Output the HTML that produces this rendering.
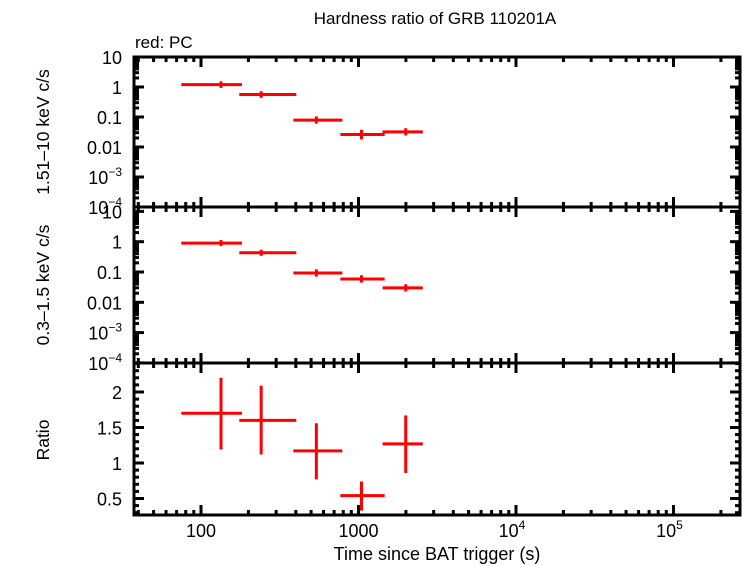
<!DOCTYPE html>
<html><head><meta charset="utf-8"><style>
body{margin:0;background:#fff}
svg{display:block;font-family:"Liberation Sans",sans-serif}
</style></head><body>
<svg id="c" width="742" height="566" viewBox="0 0 742 566">
<text x="435" y="24" font-size="17" text-anchor="middle">Hardness ratio of GRB 110201A</text>
<text x="135" y="48" font-size="17">red: PC</text>
<text x="437" y="560" font-size="18" text-anchor="middle">Time since BAT trigger (s)</text>
<text transform="translate(49,132) rotate(-90)" font-size="17.5" text-anchor="middle">1.51–10 keV c/s</text>
<text transform="translate(49,285) rotate(-90)" font-size="17.5" text-anchor="middle">0.3–1.5 keV c/s</text>
<text transform="translate(49,440) rotate(-90)" font-size="17.5" text-anchor="middle">Ratio</text>
<g id="g"></g>
</svg>
<script>
const tLo=[75,175,386,767,1422];
const tHi=[182,403,790,1466,2560];
const tMid=[134,241,540,1045,1995];
const hardVal=[1.2,0.56,0.079,0.026,0.032];
const hardErrLog=[0.11,0.11,0.12,0.16,0.12];
const softVal=[0.9,0.43,0.093,0.059,0.03];
const softErrLog=[0.1,0.1,0.12,0.12,0.12];
const ratioVal=[1.70,1.60,1.17,0.54,1.27];
const ratioLo=[1.19,1.12,0.77,0.33,0.86];
const ratioHi=[2.20,2.09,1.56,0.74,1.67];
const ratioTicks=[0.5,1,1.5,2];
const xTickLabels=["100","1000"];

const NS="http://www.w3.org/2000/svg";
const g=document.getElementById('g');
const L=134,R=740;
const X=t=>201+(Math.log10(t)-2)*157.5;
function el(tag,attrs,parent){const e=document.createElementNS(NS,tag);for(const k in attrs)e.setAttribute(k,attrs[k]);(parent||g).appendChild(e);return e;}
const panels=[
 {top:57,bot:207,log:true,y:v=>57+(1-Math.log10(v))*30,name:'hard'},
 {top:207,bot:363,log:true,y:v=>241.7+(0-Math.log10(v))*30.3,name:'soft'},
 {top:363,bot:515,log:false,y:v=>463-(v-1)*71,name:'ratio'}
];
panels.forEach(p=>{
 for(let d=1;d<=5;d++){for(let m=1;m<=9;m++){const t=m*Math.pow(10,d);const x=X(t);if(x<L+2||x>R-1)continue;const len=m===1?10:5;
  let e=el('line',{x1:x,x2:x,y1:p.bot,y2:p.bot-len,stroke:'#000','stroke-width':3});
  
  e=el('line',{x1:x,x2:x,y1:p.top,y2:p.top+len,stroke:'#000','stroke-width':3});
  }}
});
function ytick(p,y,len){if(y<p.top-0.5||y>p.bot+0.5)return;
 let e=el('line',{x1:L,x2:L+len,y1:y,y2:y,stroke:'#000','stroke-width':3});
 e=el('line',{x1:R,x2:R-len,y1:y,y2:y,stroke:'#000','stroke-width':3});}
const logLabels={"1":"10","0":"1","-1":"0.1","-2":"0.01"};
[panels[0],panels[1]].forEach((p,pi)=>{
 for(let d=-4;d<=1;d++){for(let m=1;m<=9;m++){const v=m*Math.pow(10,d);ytick(p,p.y(v),m===1?10:5);}
  const y=p.y(Math.pow(10,d));if(y<p.top-1||y>p.bot+1)continue;
  let txt;
  if(logLabels[d]!==undefined){txt=el('text',{x:122,y:y+7,'font-size':18,'text-anchor':'end'});txt.textContent=logLabels[d];}
  else{txt=el('text',{x:122,y:y+7,'font-size':18,'text-anchor':'end'});txt.innerHTML='10<tspan dy="-8" font-size="12">'+'−'+(-d)+'</tspan>';}
  
 }
});
const rp=panels[2];
for(let v=0.3;v<=2.41;v+=0.1){const vv=Math.round(v*10)/10;ytick(rp,rp.y(vv),Math.abs(vv*2-Math.round(vv*2))<1e-6?10:5);}
ratioTicks.forEach(v=>{const t=el('text',{x:122,y:rp.y(v)+7,'font-size':18,'text-anchor':'end'});t.textContent=String(v);
 });
[100,1000].forEach((t,i)=>{const e=el('text',{x:X(t),y:537,'font-size':18,'text-anchor':'middle'});e.textContent=xTickLabels[i];
 });
[[1e4,'4'],[1e5,'5']].forEach(a=>{const e=el('text',{x:X(a[0])-4,y:537,'font-size':18,'text-anchor':'middle'});e.innerHTML='10<tspan dy="-8" font-size="12">'+a[1]+'</tspan>';
 });
panels.forEach(p=>{const r=el('rect',{x:L,y:p.top,width:R-L,height:p.bot-p.top,fill:'none',stroke:'#000','stroke-width':3});
 });
function point(p,i,yc,y1,y2,w){
 let e=el('line',{x1:X(tLo[i]),x2:X(tHi[i]),y1:yc,y2:yc,stroke:'#f00','stroke-width':w});
 
 e=el('line',{x1:X(tMid[i]),x2:X(tMid[i]),y1:y1,y2:y2,stroke:'#f00','stroke-width':w});
 
}
tMid.forEach((t,i)=>{
 let p=panels[0];const lv=Math.log10(hardVal[i]);
 point(p,i,p.y(hardVal[i]),p.y(Math.pow(10,lv+hardErrLog[i])),p.y(Math.pow(10,lv-hardErrLog[i])),3);
 p=panels[1];const ls=Math.log10(softVal[i]);
 point(p,i,p.y(softVal[i]),p.y(Math.pow(10,ls+softErrLog[i])),p.y(Math.pow(10,ls-softErrLog[i])),3);
 p=panels[2];
 point(p,i,p.y(ratioVal[i]),p.y(ratioHi[i]),p.y(ratioLo[i]),3);
});
</script>
</body></html>
